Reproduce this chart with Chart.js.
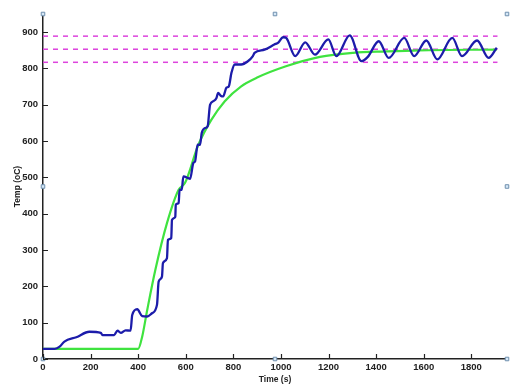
<!DOCTYPE html>
<html lang="en">
  <head>
    <meta charset="UTF-8" />
    <title>Temp vs Time</title>
    <script src="https://cdn.jsdelivr.net/npm/chart.js@4"></script>
    <style>
      body { margin: 0; background: #fff; }
    </style>
  </head>
  <body>
    <canvas id="tempChart" width="512" height="385"></canvas>
    <script>
      // measured temperature (blue)
      const measTime = [0, 49, 70, 90, 140, 195, 243, 250, 299, 313, 327, 347, 368, 375, 396, 417, 438, 458, 479,
        486, 500, 504, 521, 525, 539, 542, 556, 558, 570, 574, 583, 590, 618, 632, 639, 650, 660, 667, 681, 692,
        702, 716, 729, 736, 747, 757, 771, 781, 792, 806, 833, 861, 882, 889, 931, 972, 990, 1004, 1011, 1022,
        1060, 1102, 1143, 1199, 1233, 1289, 1338, 1365, 1411, 1453, 1518, 1560, 1611, 1657, 1720, 1761, 1824, 1873, 1907];
      const measTemp = [28, 28, 34, 48, 60, 75, 72, 66, 66, 78, 72, 79, 78, 121, 137, 118, 117, 126, 149,
        213, 227, 264, 278, 328, 333, 383, 392, 425, 429, 466, 466, 503, 496, 540, 544, 590, 590, 622, 636, 641,
        700, 710, 719, 733, 725, 723, 747, 751, 788, 811, 811, 820, 834, 843, 852, 866, 872, 884, 886, 884,
        834, 872, 838, 880, 834, 891, 820, 832, 875, 829, 884, 834, 877, 825, 884, 834, 877, 829, 857];

      // model response (green)
      const modelTime = [0, 400, 417, 438, 472, 521, 570, 597, 653, 708, 764, 833, 900, 1021, 1164, 1303, 1442, 1581, 1907];
      const modelTemp = [28, 28, 62, 135, 245, 374, 466, 485, 590, 659, 710, 751, 775, 806, 832, 843, 847, 850, 852];

      // setpoint band (magenta dashed)
      const bandLevels = [889, 853, 817];
      const bandTime = [0, 1910];

      // figure selection handles
      const handleX = [0, 975, 1950, 0, 1950, 0, 975, 1950];
      const handleY = [950, 950, 950, 475, 475, 0, 0, 0];

      const xTicks = [0, 200, 400, 600, 800, 1000, 1200, 1400, 1600, 1800];

      const toPts = (xs, ys) => xs.map((x, i) => ({ x: x, y: ys[i] }));

      const bandSets = bandLevels.map((v) => ({
        data: bandTime.map((t) => ({ x: t, y: v })),
        borderColor: "#dd44dd",
        borderWidth: 1.5,
        borderDash: [5, 5],
        pointRadius: 0,
      }));

      // short tick marks pointing into the plot
      const innerTicks = {
        id: "innerTicks",
        afterDraw(chart) {
          const ctx = chart.ctx;
          const xs = chart.scales.x;
          const ys = chart.scales.y;
          ctx.save();
          ctx.strokeStyle = "#222";
          ctx.lineWidth = 1.2;
          ctx.beginPath();
          xs.ticks.forEach((t) => {
            const px = Math.round(xs.getPixelForValue(t.value)) + 0.5;
            ctx.moveTo(px, xs.top);
            ctx.lineTo(px, xs.top - 5);
          });
          ys.ticks.forEach((t) => {
            const py = Math.round(ys.getPixelForValue(t.value)) + 0.5;
            ctx.moveTo(ys.right, py);
            ctx.lineTo(ys.right + 5, py);
          });
          ctx.stroke();
          ctx.restore();
        },
      };

      const tickFont = { family: "'Liberation Sans', Arial, sans-serif", size: 9.5, weight: "bold" };
      const titleFont = { family: "'Liberation Sans', Arial, sans-serif", size: 8.5, weight: "bold" };

      new Chart(document.getElementById("tempChart").getContext("2d"), {
        type: "line",
        data: {
          datasets: [
            {
              data: toPts(handleX, handleY),
              showLine: false,
              pointStyle: "rect",
              pointRadius: 2.5,
              backgroundColor: "#d6e8f7",
              borderColor: "#6f8fae",
              pointBorderWidth: 1,
              clip: false,
            },
            {
              data: toPts(measTime, measTemp),
              borderColor: "#1c1caa",
              borderWidth: 2.3,
              pointRadius: 0,
              cubicInterpolationMode: "monotone",
            },
            {
              data: toPts(modelTime, modelTemp),
              borderColor: "#3fe33f",
              borderWidth: 2.2,
              pointRadius: 0,
              cubicInterpolationMode: "monotone",
            },
            ...bandSets,
          ],
        },
        options: {
          responsive: false,
          animation: false,
          layout: { padding: { top: 14, right: 1, left: 0, bottom: 0 } },
          plugins: { legend: { display: false }, tooltip: { enabled: false } },
          scales: {
            x: {
              type: "linear",
              min: 0,
              max: 1950,
              afterFit: (s) => { s.height = 26; },
              afterBuildTicks: (s) => { s.ticks = xTicks.map((v) => ({ value: v })); },
              grid: { drawOnChartArea: false, drawTicks: false },
              border: { color: "#222", width: 1.5 },
              ticks: { color: "#222", font: tickFont, padding: 3, maxRotation: 0, autoSkip: false, callback: (v) => String(v) },
              title: { display: true, text: "Time (s)", color: "#222", font: titleFont, padding: { top: 0, bottom: 0 } },
            },
            y: {
              type: "linear",
              min: 0,
              max: 950,
              afterFit: (s) => { s.width = 43; },
              grid: { drawOnChartArea: false, drawTicks: false },
              border: { color: "#222", width: 1.5 },
              ticks: { color: "#222", font: tickFont, padding: 5, stepSize: 100, includeBounds: false, callback: (v) => String(v) },
              title: { display: true, text: "Temp (oC)", color: "#222", font: titleFont, padding: { top: 13, bottom: 0 } },
            },
          },
        },
        plugins: [innerTicks],
      });
    </script>
  </body>
</html>
